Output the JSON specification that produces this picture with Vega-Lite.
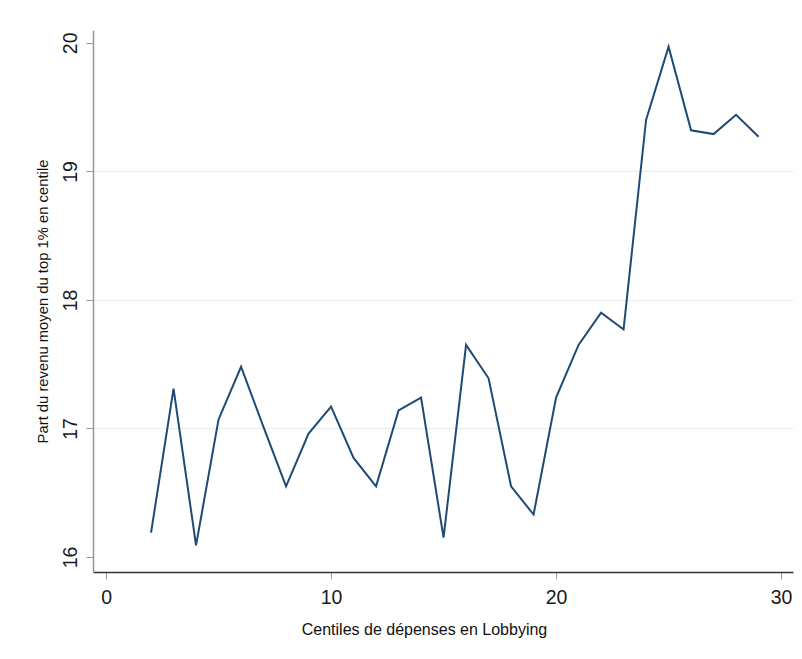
{
  "$schema": "https://vega.github.io/schema/vega-lite/v6.json",
  "width": 700,
  "height": 542,
  "autosize": "none",
  "padding": {"left": 93, "top": 30, "right": 9, "bottom": 87},
  "background": "white",
  "config": {"view": {"stroke": null}},
  "data": {"values": [
    {"c": 2, "v": 16.19}, {"c": 3, "v": 17.31}, {"c": 4, "v": 16.09}, {"c": 5, "v": 17.07},
    {"c": 6, "v": 17.48}, {"c": 7, "v": 17.01}, {"c": 8, "v": 16.55}, {"c": 9, "v": 16.96},
    {"c": 10, "v": 17.17}, {"c": 11, "v": 16.77}, {"c": 12, "v": 16.55}, {"c": 13, "v": 17.14},
    {"c": 14, "v": 17.24}, {"c": 15, "v": 16.15}, {"c": 16, "v": 17.65}, {"c": 17, "v": 17.39},
    {"c": 18, "v": 16.55}, {"c": 19, "v": 16.33}, {"c": 20, "v": 17.24}, {"c": 21, "v": 17.65},
    {"c": 22, "v": 17.9}, {"c": 23, "v": 17.77}, {"c": 24, "v": 19.4}, {"c": 25, "v": 19.97},
    {"c": 26, "v": 19.32}, {"c": 27, "v": 19.29}, {"c": 28, "v": 19.44}, {"c": 29, "v": 19.27}
  ]},
  "mark": {"type": "line", "color": "#1f4a75", "strokeWidth": 2},
  "encoding": {
    "x": {
      "field": "c", "type": "quantitative",
      "scale": {"domain": [-0.58, 30.53], "nice": false, "zero": false},
      "axis": {
        "values": [0, 10, 20, 30],
        "grid": false,
        "domainColor": "#333333", "domainWidth": 1.5,
        "tickColor": "#999999", "tickSize": 7, "tickWidth": 1,
        "labelFont": "Liberation Sans", "labelFontSize": 19.5, "labelColor": "#1a1a1a",
        "labelPadding": 9,
        "title": "Centiles de dépenses en Lobbying",
        "titleFont": "Liberation Sans", "titleFontSize": 16, "titleFontWeight": "normal",
        "titleColor": "#111111",
        "titleAnchor": null, "titleAlign": "center", "titleBaseline": "middle",
        "titleX": 331, "titleY": 57
      }
    },
    "y": {
      "field": "v", "type": "quantitative",
      "scale": {"domain": [15.883, 20.1], "nice": false, "zero": false},
      "axis": {
        "values": [16, 17, 18, 19, 20],
        "grid": true,
        "gridColor": "#e2eced",
        "gridWidth": 1,
        "gridOpacity": {"condition": {"test": "datum.value == 16 || datum.value == 20", "value": 0}, "value": 1},
        "domainColor": "#999999", "domainWidth": 1.5,
        "tickColor": "#999999", "tickSize": 7, "tickWidth": 1,
        "labelFont": "Liberation Sans", "labelFontSize": 19.5, "labelColor": "#1a1a1a",
        "labelAngle": -90, "labelAlign": "center", "labelBaseline": "bottom",
        "labelPadding": 6,
        "title": "Part du revenu moyen du top 1% en centile",
        "titleFont": "Liberation Sans", "titleFontSize": 14.8, "titleFontWeight": "normal",
        "titleColor": "#111111",
        "titleAngle": -90, "titleAnchor": null, "titleAlign": "center", "titleBaseline": "middle",
        "titleX": -50, "titleY": 271
      }
    }
  }
}
